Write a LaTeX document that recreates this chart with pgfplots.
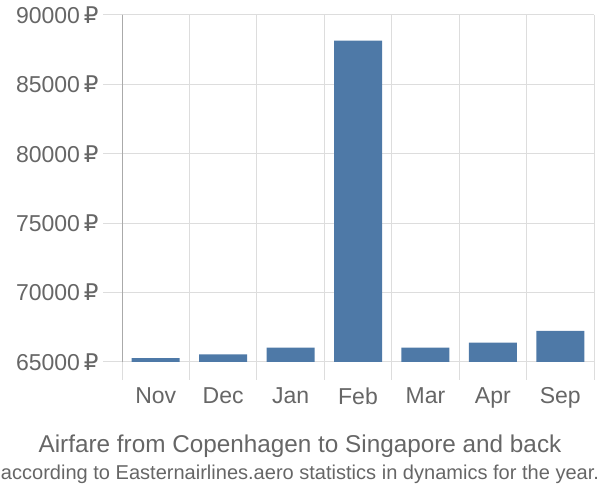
\documentclass[border=0pt]{standalone}
\usepackage{pgfplots}
\pgfplotsset{compat=1.18}
\usepackage{fontspec}
\setmainfont{Liberation Sans}
\newfontfamily\rubfont{DejaVu Sans}
\definecolor{barblue}{HTML}{4E79A7}
\definecolor{txtgray}{HTML}{666666}
\definecolor{gridgray}{HTML}{DDDDDD}
\definecolor{axisgray}{HTML}{AAAAAA}

\begin{document}
\begin{tikzpicture}[x=1bp,y=1bp]
\path[use as bounding box] (0,0) rectangle (600,500);
\begin{axis}[
    at={(122bp,138bp)}, anchor=south west,
    scale only axis, width=472bp, height=347bp,
    xmin=-0.5, xmax=6.5, ymin=65000, ymax=90000,
    ybar, bar width=48bp,
    xtick={0,...,6}, xticklabels={Nov,Dec,Jan,Feb,Mar,Apr,Sep},
    minor xtick={-0.5,0.5,...,6.5},
    ytick={65000,70000,...,90000},
    scaled y ticks=false,
    /pgf/number format/.cd, fixed, 1000 sep={}, assume math mode=true, /pgfplots/.cd,
    yticklabel={\pgfmathprintnumber{\tick}\,{\rubfont ₽}},
    tick pos=left, tick align=outside,
    major tick length=19bp, minor tick length=18bp,
    major x tick style={draw=none},
    minor x tick style={gridgray, line width=1bp},
    ytick style={gridgray, line width=1bp},
    ymajorgrids, xminorgrids,
    major grid style={gridgray, line width=1bp},
    minor grid style={gridgray, line width=1bp},
    axis line style={draw=none},
    tick label style={txtgray, font=\fontsize{23bp}{26bp}\selectfont},
    yticklabel style={xshift=-1bp},
    xticklabel style={yshift=-3bp},
]
\addplot[fill=barblue, draw=none] coordinates {
    (0,65270) (1,65550) (2,66030) (3,88150) (4,66030) (5,66400) (6,67240)
};
\draw[axisgray, line width=1.5bp] (rel axis cs:0,1) -- (rel axis cs:0,0) -- ++(0,-18bp);
\end{axis}
\node[txtgray, font=\fontsize{24.3bp}{28bp}\selectfont] at (300,54) {Airfare from Copenhagen to Singapore and back};
\node[txtgray, font=\fontsize{20bp}{24bp}\selectfont] at (300,26) {\resizebox{598bp}{!}{according to Easternairlines.aero statistics in dynamics for the year.}};
\end{tikzpicture}
\end{document}
